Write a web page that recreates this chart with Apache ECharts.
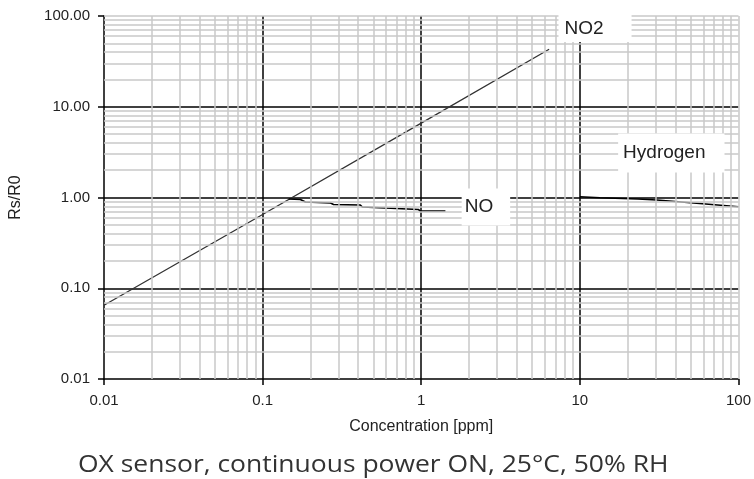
<!DOCTYPE html>
<html>
<head>
<meta charset="utf-8">
<script src="https://cdn.jsdelivr.net/npm/echarts@6/dist/echarts.min.js"></script>
<style>html,body{margin:0;padding:0;background:#fff;}#c{width:754px;height:479px;}</style>
</head>
<body>
<div id="c"></div>
<script>
// Tick labels
var xTickLabels = ['0.01', '0.1', '1', '10', '100'];
var yTickLabels = ['0.01', '0.10', '1.00', '10.00', '100.00'];
var decades = [0.01, 0.1, 1, 10];
var minorMultiples = [2, 3, 4, 5, 6, 7, 8, 9];

// Series data [concentration ppm, Rs/R0]
var no2Data = [[0.01, 0.065], [0.1, 0.65], [1, 6.6], [6.4, 43]];
var noData = [[0.146, 0.963], [0.173, 0.951], [0.186, 0.892], [0.268, 0.87], [0.28, 0.837], [0.413, 0.827], [0.425, 0.786], [0.594, 0.766], [0.611, 0.746], [0.957, 0.738], [0.986, 0.71], [1.42, 0.71]];
var h2Data = [[10, 1.02], [13.4, 0.995], [23.2, 0.963], [30.5, 0.938], [31, 0.9], [54.5, 0.863], [55.2, 0.826], [100, 0.79]];

// Label anchors
var no2Label = [7.28, 72.8];
var noLabel = [1.785, 0.786];
var h2Label = [17.3, 3.09];

var minorVals = [];
decades.forEach(function (d) { minorMultiples.forEach(function (m) { minorVals.push(+(d * m).toPrecision(3)); }); });
minorVals.push(100);
var minorLines = [];
minorVals.forEach(function (v) { minorLines.push({ xAxis: v }); minorLines.push({ yAxis: v }); });

var axisFont = { fontFamily: 'Liberation Sans', fontSize: 15, color: '#222' };
function labelPoint(coord, name, pad) {
  return {
    coord: coord, name: name, symbol: 'rect', symbolSize: 1,
    itemStyle: { color: 'rgba(0,0,0,0)' },
    label: { show: true, position: 'right', distance: 0, formatter: name,
      fontFamily: 'Liberation Sans', fontSize: 19, color: '#222',
      backgroundColor: '#fff', padding: pad }
  };
}

var chart = echarts.init(document.getElementById('c'), null, { renderer: 'canvas' });
chart.setOption({
  animation: false,
  grid: { left: 103, right: 15, top: 16, bottom: 100, containLabel: false },
  xAxis: {
    type: 'log', logBase: 10, min: 0.01, max: 100,
    name: 'Concentration [ppm]', nameLocation: 'middle', nameGap: 40,
    nameTextStyle: { fontFamily: 'Liberation Sans', fontSize: 16, color: '#222' },
    axisLine: { show: true, lineStyle: { color: '#000', width: 1.5 } },
    axisTick: { show: true, inside: false, length: 6, lineStyle: { color: '#000', width: 1.5 } },
    axisLabel: Object.assign({ margin: 14, formatter: function (v, i) { return xTickLabels[i]; } }, axisFont),
    splitLine: { show: true, showMinLine: false, showMaxLine: false, lineStyle: { color: '#000', width: 1.5 } },
    minorTick: { show: false }, minorSplitLine: { show: false }
  },
  yAxis: {
    type: 'log', logBase: 10, min: 0.01, max: 100,
    name: 'Rs/R0', nameLocation: 'middle', nameGap: 80,
    nameTextStyle: { fontFamily: 'Liberation Sans', fontSize: 16, color: '#222' },
    axisLine: { show: true, lineStyle: { color: '#000', width: 1.5 } },
    axisTick: { show: true, inside: false, length: 6, lineStyle: { color: '#000', width: 1.5 } },
    axisLabel: Object.assign({ margin: 14, formatter: function (v, i) { return yTickLabels[i]; } }, axisFont),
    splitLine: { show: true, showMinLine: false, showMaxLine: false, lineStyle: { color: '#000', width: 1.5 } },
    minorTick: { show: false }, minorSplitLine: { show: false }
  },
  series: [
    {
      type: 'line', data: [], z: 1, silent: true,
      markLine: { silent: true, symbol: ['none', 'none'], animation: false,
        label: { show: false }, lineStyle: { color: '#c8c8c8', width: 1.5, type: 'solid' },
        data: minorLines }
    },
    {
      name: 'NO2', type: 'line', data: no2Data, z: 3, showSymbol: false, symbol: 'none',
      lineStyle: { color: '#333', width: 1.3 },
      markPoint: { silent: true, animation: false, data: [labelPoint(no2Label, 'NO2', [4, 28, 4, 6])] }
    },
    {
      name: 'NO', type: 'line', data: noData, z: 3, showSymbol: false, symbol: 'none',
      lineStyle: { color: '#000', width: 1.6 },
      markPoint: { silent: true, animation: false, data: [labelPoint(noLabel, 'NO', [9, 17, 9, 3])] }
    },
    {
      name: 'Hydrogen', type: 'line', data: h2Data, z: 3, showSymbol: false, symbol: 'none',
      lineStyle: { color: '#000', width: 1.6 },
      markPoint: { silent: true, animation: false, data: [labelPoint(h2Label, 'Hydrogen', [10, 19, 10, 5])] }
    }
  ],
  graphic: [{
    type: 'text', x: 78, y: 454, scaleX: 1.15, scaleY: 1,
    style: { text: 'OX sensor, continuous power ON, 25°C, 50% RH', fontFamily: 'Open Sans', fontSize: 23, fill: '#333' }
  }]
});
</script>
</body>
</html>
